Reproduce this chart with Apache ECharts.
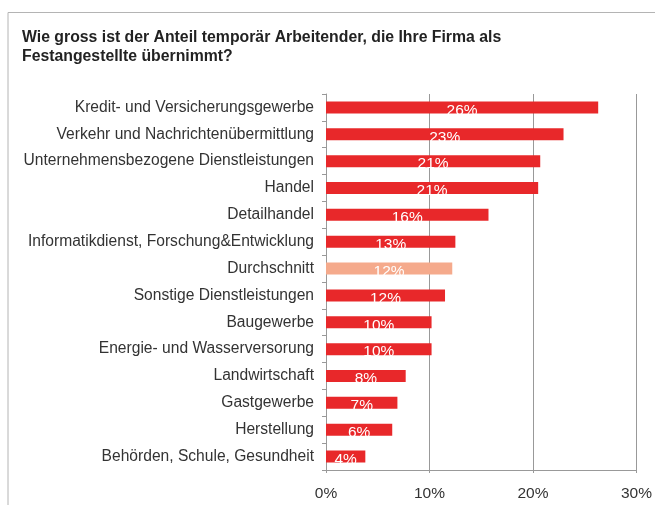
<!DOCTYPE html>
<html>
<head>
<meta charset="utf-8">
<script src="https://cdn.jsdelivr.net/npm/echarts@6/dist/echarts.min.js"></script>
<style>
  body { margin: 0; background: #fff; }
  #main { width: 655px; height: 505px; }
</style>
</head>
<body>
<div id="main"></div>
<script>
// Branchen (von oben nach unten)
var categories = [
  'Kredit- und Versicherungsgewerbe',
  'Verkehr und Nachrichtenübermittlung',
  'Unternehmensbezogene Dienstleistungen',
  'Handel',
  'Detailhandel',
  'Informatikdienst, Forschung&Entwicklung',
  'Durchschnitt',
  'Sonstige Dienstleistungen',
  'Baugewerbe',
  'Energie- und Wasserversorung',
  'Landwirtschaft',
  'Gastgewerbe',
  'Herstellung',
  'Behörden, Schule, Gesundheit'
];
// Anteil in %
var values = [26.3, 22.95, 20.7, 20.5, 15.7, 12.5, 12.2, 11.5, 10.2, 10.2, 7.7, 6.9, 6.4, 3.8];
var xTicks = [0, 10, 20, 30];

var red = '#e8282a';
var avg = '#f5aa8c';

var chart = echarts.init(document.getElementById('main'));
chart.setOption({
  animation: false,
  textStyle: { fontFamily: 'Liberation Sans, Arial, sans-serif' },
  title: {
    text: 'Wie gross ist der Anteil temporär Arbeitender, die Ihre Firma als\nFestangestellte übernimmt?',
    left: 17,
    top: 23,
    textStyle: { fontSize: 15.8, fontWeight: 'bold', color: '#222', lineHeight: 19 }
  },
  graphic: [{
    type: 'polyline',
    shape: { points: [[8, 505], [8, 12.5], [660, 12.5]] },
    style: { stroke: '#b4b4b4', lineWidth: 1, fill: null }
  }],
  grid: { left: 326, right: 18, top: 94, bottom: 35, containLabel: false },
  xAxis: {
    type: 'value',
    min: xTicks[0],
    max: xTicks[xTicks.length - 1],
    interval: 10,
    axisLine: { show: true, lineStyle: { color: '#999' } },
    axisTick: { show: true, length: 3, lineStyle: { color: '#999' } },
    splitLine: { show: true, lineStyle: { color: '#999' } },
    axisLabel: { formatter: '{value}%', color: '#333', fontSize: 15.5, margin: 16 }
  },
  yAxis: {
    type: 'category',
    inverse: true,
    data: categories,
    axisLine: { show: true, lineStyle: { color: '#999' } },
    axisTick: { show: true, length: 4, lineStyle: { color: '#999' } },
    axisLabel: { color: '#333', fontSize: 15.6, margin: 12 }
  },
  series: [{
    type: 'bar',
    barWidth: 12,
    data: values.map(function (v, i) {
      return {
        value: v,
        itemStyle: { color: categories[i] === 'Durchschnitt' ? avg : red }
      };
    }),
    label: {
      show: true,
      position: 'inside',
      offset: [0, 3],
      color: '#fff',
      fontSize: 15.5,
      formatter: function (p) { return Math.round(p.value) + '%'; }
    }
  }]
});
</script>
</body>
</html>
